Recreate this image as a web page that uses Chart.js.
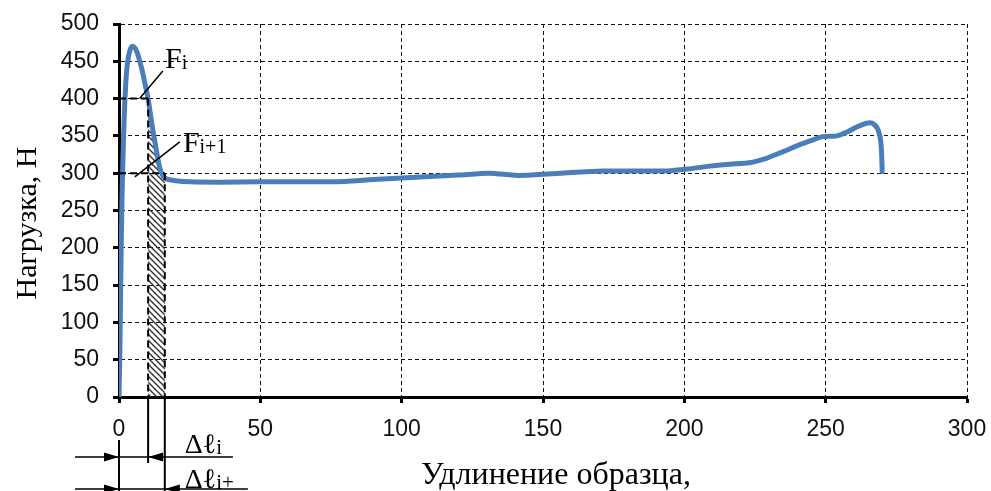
<!DOCTYPE html>
<html>
<head>
<meta charset="utf-8">
<script src="https://cdn.jsdelivr.net/npm/chart.js@4.4.1/dist/chart.umd.min.js"></script>
<style>
  html, body { margin: 0; padding: 0; background: #fff; }
  #wrap { width: 991px; height: 491px; }
</style>
</head>
<body>
<div id="wrap"><canvas id="loadChart" width="991" height="491"></canvas></div>
<script>
/* ==== Диаграмма растяжения: удлинение образца – нагрузка ==== */

// удлинение образца (ось X)
const elongation = [
  0, 0.3, 0.6, 0.9, 1.2, 1.8, 2.4, 3.0, 3.8, 4.6, 5.4, 6.3, 7.3, 8.3, 9.3,
  10.3, 11.0, 12.0, 12.9, 13.7, 14.5, 15.6, 17, 20, 25, 35, 50, 60, 70,
  80, 90, 100, 110, 120, 131, 141, 150, 160, 171, 182, 194, 201, 209, 216,
  223, 229, 235, 240, 245, 249, 254, 258, 261, 264.5, 266.5, 268.3,
  269.4, 269.8, 270
];

// нагрузка, Н (ось Y)
const load = [
  0, 60, 150, 230, 290, 370, 420, 448, 464, 470, 469, 463, 451, 436, 418,
  400, 382, 357, 338, 320, 306, 296, 292, 290, 288.5, 288, 288.5, 288.5, 288.5,
  289, 291.5, 293.5, 295.5, 297.5, 300, 297, 298.5, 301, 303, 303, 303, 305.5, 309.5, 312,
  314, 320, 329, 337, 344, 349, 350, 356, 362, 367, 367, 360,
  345, 325, 302
];

// подписи делений осей
const xTicks = [0, 50, 100, 150, 200, 250, 300];
const yTicks = [0, 50, 100, 150, 200, 250, 300, 350, 400, 450, 500];

// шаг Δℓ между соседними точками F_i и F_i+1
const stepStart = 10.3;
const stepEnd = 16.2;
const forceI = 400;
const forceNext = 300;

/* ==== штриховка под кривой ==== */
function hatchPattern(ctx) {
  const c = document.createElement('canvas');
  c.width = 6; c.height = 6;
  const p = c.getContext('2d');
  p.strokeStyle = '#333';
  p.lineWidth = 1.4;
  p.beginPath();
  p.moveTo(-1, -1); p.lineTo(7, 7);
  p.moveTo(-1, 5); p.lineTo(1, 7);
  p.moveTo(5, -1); p.lineTo(7, 1);
  p.stroke();
  return ctx.createPattern(c, 'repeat');
}

// стрелка размерной линии, острие в (x, y), dir = +1 вправо, -1 влево
function arrowHead(ctx, x, y, dir) {
  ctx.beginPath();
  ctx.moveTo(x, y);
  ctx.lineTo(x - dir * 15, y - 4.5);
  ctx.lineTo(x - dir * 15, y + 4.5);
  ctx.closePath();
  ctx.fill();
}

// подпись вида «F» + индекс
function indexed(ctx, main, sub, x, y, mainSize, subSize) {
  ctx.font = mainSize + "px 'Liberation Serif', 'DejaVu Serif', serif";
  ctx.fillText(main, x, y);
  const w = ctx.measureText(main).width;
  ctx.font = subSize + "px 'Liberation Serif', 'DejaVu Serif', serif";
  ctx.fillText(sub, x + w, y + 1);
}

const stepMarks = {
  id: 'stepMarks',
  beforeDatasetsDraw(chart) {
    const { ctx, chartArea, scales: { x, y } } = chart;
    const meta = chart.getDatasetMeta(0);
    const x0 = x.getPixelForValue(stepStart);
    const x1 = x.getPixelForValue(stepEnd);
    const yb = y.getPixelForValue(0);
    ctx.save();
    ctx.beginPath();
    ctx.rect(x0, chartArea.top, x1 - x0, yb - chartArea.top);
    ctx.clip();
    ctx.beginPath();
    meta.dataset.path(ctx);
    const last = meta.data[meta.data.length - 1];
    ctx.lineTo(last.x, yb);
    ctx.lineTo(meta.data[0].x, yb);
    ctx.closePath();
    ctx.fillStyle = hatchPattern(ctx);
    ctx.fill();
    ctx.restore();
  },
  afterDatasetsDraw(chart) {
    const { ctx, scales: { x, y } } = chart;
    const px = v => x.getPixelForValue(v);
    const py = v => y.getPixelForValue(v);
    const bottom = py(0);

    ctx.save();
    ctx.strokeStyle = '#000';
    ctx.fillStyle = '#000';

    /* пунктир к точкам F_i и F_i+1 */
    ctx.lineWidth = 2;
    ctx.setLineDash([7, 4]);
    ctx.beginPath();
    ctx.moveTo(px(0), py(forceI)); ctx.lineTo(px(stepStart), py(forceI));
    ctx.moveTo(px(stepStart), py(forceI)); ctx.lineTo(px(stepStart), bottom);
    ctx.moveTo(px(0), py(forceNext)); ctx.lineTo(px(stepEnd), py(forceNext));
    ctx.moveTo(px(stepEnd), py(forceNext)); ctx.lineTo(px(stepEnd), bottom);
    ctx.stroke();
    ctx.setLineDash([]);

    /* выноски */
    ctx.lineWidth = 1.5;
    ctx.beginPath();
    ctx.moveTo(px(7.3), py(forceI)); ctx.lineTo(px(15.5), py(437));
    ctx.moveTo(px(5.6), py(295)); ctx.lineTo(px(21.5), py(342));
    ctx.stroke();

    ctx.textAlign = 'left';
    ctx.textBaseline = 'alphabetic';
    indexed(ctx, 'F', 'i', px(16.3), py(441), 30, 20);
    indexed(ctx, 'F', 'i+1', px(22.6), py(328), 30, 20);

    /* размерные линии Δℓ под осью */
    const row1 = bottom + 60;
    const row2 = bottom + 92;
    const h = chart.height;
    ctx.lineWidth = 2;
    ctx.beginPath();
    ctx.moveTo(px(0), bottom + 43); ctx.lineTo(px(0), h);
    ctx.moveTo(px(stepStart), bottom); ctx.lineTo(px(stepStart), bottom + 66);
    ctx.moveTo(px(stepEnd), bottom); ctx.lineTo(px(stepEnd), h);
    ctx.stroke();

    ctx.lineWidth = 1.5;
    ctx.beginPath();
    ctx.moveTo(px(0) - 44, row1); ctx.lineTo(px(40.3), row1);
    ctx.moveTo(px(0) - 44, row2); ctx.lineTo(px(45.6), row2);
    ctx.stroke();
    arrowHead(ctx, px(0), row1, 1);
    arrowHead(ctx, px(stepStart), row1, -1);
    arrowHead(ctx, px(0), row2, 1);
    arrowHead(ctx, px(stepEnd), row2, -1);

    indexed(ctx, 'Δℓ', 'i', px(23.3), row1 - 4, 28, 21);
    indexed(ctx, 'Δℓ', 'i+', px(23.3), row2 - 1, 28, 21);

    /* названия осей */
    ctx.font = "32px 'Liberation Serif', 'DejaVu Serif', serif";
    ctx.textAlign = 'center';
    ctx.fillText('Удлинение образца,', 556, 484);
    ctx.font = "30px 'Liberation Serif', 'DejaVu Serif', serif";
    ctx.translate(36, 223);
    ctx.rotate(-Math.PI / 2);
    ctx.fillText('Нагрузка, Н', 0, 0);
    ctx.restore();
  }
};

/* ==== оформление осей ==== */
const tickFont = { family: "'Liberation Sans', Arial, sans-serif", size: 23 };
const gridStyle = {
  color: '#111',
  lineWidth: 1,
  tickLength: 6,
  tickColor: '#000',
  tickWidth: 3,
  tickBorderDash: []
};
const borderStyle = { color: '#000', width: 3, dash: [4, 3] };

// фиксированные размеры осей, без автоматических отступов под подписи
function fitX(s) {
  s.height = 94;
  s.paddingLeft = 0; s.paddingRight = 0;
}
function fitY(s) {
  s.width = 119;
  s.paddingTop = 0; s.paddingBottom = 0;
}

new Chart(document.getElementById('loadChart'), {
  type: 'scatter',
  data: {
    datasets: [{
      data: elongation.map((v, i) => ({ x: v, y: load[i] })),
      showLine: true,
      borderColor: '#4a7ebb',
      borderWidth: 5,
      borderCapStyle: 'round',
      borderJoinStyle: 'round',
      pointRadius: 0,
      tension: 0.25
    }]
  },
  options: {
    responsive: false,
    animation: false,
    devicePixelRatio: 1,
    layout: { padding: { top: 24, right: 24, left: 0, bottom: 0 } },
    plugins: { legend: { display: false }, tooltip: { enabled: false } },
    scales: {
      x: {
        type: 'linear',
        min: 0,
        max: 300,
        afterBuildTicks: s => { s.ticks = xTicks.map(v => ({ value: v })); },
        afterFit: fitX,
        grid: gridStyle,
        border: borderStyle,
        ticks: { font: tickFont, color: '#111', padding: 13, maxRotation: 0 }
      },
      y: {
        type: 'linear',
        min: 0,
        max: 500,
        afterBuildTicks: s => { s.ticks = yTicks.map(v => ({ value: v })); },
        afterFit: fitY,
        grid: gridStyle,
        border: borderStyle,
        ticks: { font: tickFont, color: '#111', padding: 14 }
      }
    }
  },
  plugins: [stepMarks]
});
</script>
</body>
</html>
